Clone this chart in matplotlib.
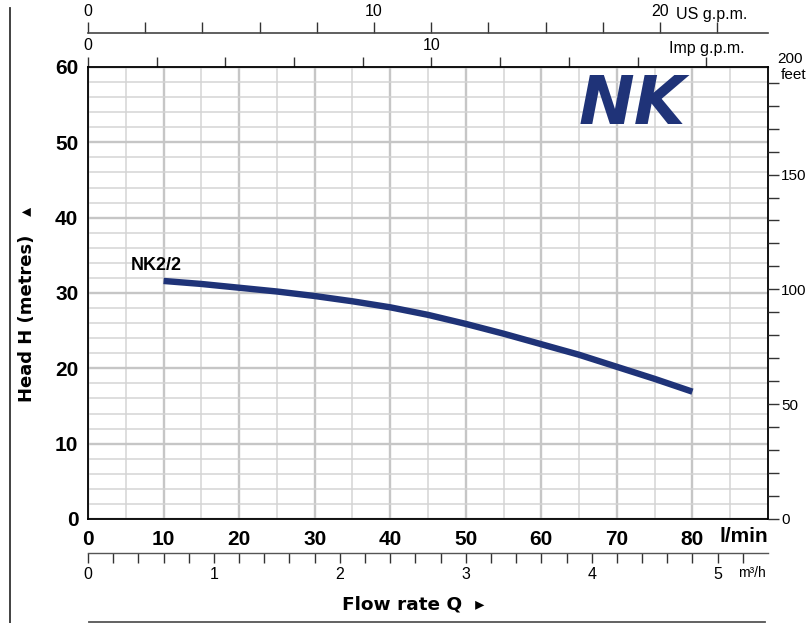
import matplotlib
matplotlib.use('Agg')
import matplotlib.pyplot as plt
from matplotlib.lines import Line2D
from matplotlib import font_manager
import numpy as np

# ---- data ----
flow_lpm = [10, 15, 20, 25, 30, 35, 40, 45, 50, 55, 60, 65, 70, 75, 80]
head_m = [31.6, 31.2, 30.7, 30.2, 29.6, 28.9, 28.1, 27.1, 25.9, 24.6, 23.2, 21.8, 20.2, 18.6, 16.9]
curve_label = 'NK2/2'
x_ticks_lpm = [0, 10, 20, 30, 40, 50, 60, 70, 80]
y_ticks_m = [0, 10, 20, 30, 40, 50, 60]
feet_label_vals = [0, 50, 100, 150]
usgpm_label_vals = [0, 10, 20]
impgpm_label_vals = [0, 10]
m3h_label_vals = [0, 1, 2, 3, 4, 5]

names = {f.name for f in font_manager.fontManager.ttflist}
NARROW = 'Liberation Sans Narrow' if 'Liberation Sans Narrow' in names else 'Liberation Sans'

W, H = 806, 623
fig = plt.figure(figsize=(W / 100, H / 100), dpi=100)
L, R, T, B = 88, 768, 67, 519
ax = fig.add_axes([L / W, 1 - B / H, (R - L) / W, (B - T) / H])
ax.set_xlim(0, 90)
ax.set_ylim(0, 60)

navy = '#1f3378'
SMALL = 11.5

# grid
ax.set_xticks(x_ticks_lpm)
ax.set_xticks(np.arange(5, 90, 5), minor=True)
ax.set_yticks(y_ticks_m)
ax.set_yticks(np.arange(2, 60, 2), minor=True)
ax.grid(which='major', color='#c6c6c6', lw=1.7)
ax.grid(which='minor', color='#d4d4d4', lw=1.1)
ax.set_axisbelow(True)
ax.tick_params(which='both', length=0)
ax.tick_params(axis='x', pad=8)
ax.tick_params(axis='y', pad=7)
for lab in ax.get_xticklabels() + ax.get_yticklabels():
    lab.set_fontfamily(NARROW)
    lab.set_fontweight('bold')
    lab.set_fontsize(15)
for s in ax.spines.values():
    s.set_linewidth(1.3)
    s.set_color('black')

# curve
ax.plot(flow_lpm, head_m, color=navy, lw=4.6, solid_capstyle='butt', zorder=3)
ax.text(5.7, 33.6, curve_label, ha='left', va='center', family=NARROW,
        fontweight='bold', fontsize=13)

# logo
ax.text(72.0, 54.9, 'NK', ha='center', va='center', color=navy, fontsize=48,
        fontweight='bold', style='italic', family='DejaVu Sans')

# right axis in feet
axr = ax.twinx()
axr.set_ylim(0, 60 / 0.3048)
axr.set_yticks(np.arange(0, 200, 10))
axr.set_yticklabels([str(v) if v in feet_label_vals else '' for v in range(0, 200, 10)])
axr.tick_params(axis='y', direction='out', length=8, width=1, pad=1.5, labelsize=11,
                color='#333333')
for lab in axr.get_yticklabels():
    lab.set_fontfamily(NARROW)
for s in axr.spines.values():
    s.set_visible(False)
fig.text(777 / W, 1 - 59 / H, '200', ha='left', va='center', family=NARROW, fontsize=11)
fig.text(781 / W, 1 - 75 / H, 'feet', ha='left', va='center', family=NARROW, fontsize=11)

# top: Imp g.p.m.
imp = ax.secondary_xaxis('top', functions=(lambda x: x / 4.54609, lambda x: x * 4.54609))
imp_ticks = np.arange(0, 20, 2)
imp.set_xticks(imp_ticks)
imp.set_xticklabels([str(v) if v in impgpm_label_vals else '' for v in imp_ticks])
imp.tick_params(direction='out', length=7, width=1, pad=3, labelsize=SMALL, color='#333333')
for lab in imp.get_xticklabels():
    lab.set_fontfamily(NARROW)
fig.text(745 / W, 1 - 48 / H, 'Imp g.p.m.', ha='right', va='center', family=NARROW, fontsize=SMALL)

# top: US g.p.m.
us = ax.secondary_xaxis(1 + 34 / (B - T), functions=(lambda x: x / 3.78541, lambda x: x * 3.78541))
us_ticks = np.arange(0, 24, 2)
us.set_xticks(us_ticks)
us.set_xticklabels([str(v) if v in usgpm_label_vals else '' for v in us_ticks])
us.tick_params(direction='out', length=8, width=1, pad=2, labelsize=SMALL, color='#333333')
for lab in us.get_xticklabels():
    lab.set_fontfamily(NARROW)
for s in us.spines.values():
    s.set_color('#444444')
    s.set_linewidth(1.2)
fig.text(676 / W, 1 - 15 / H, 'US g.p.m.', ha='left', va='center', family=NARROW, fontsize=SMALL)

# bottom: m3/h
m3 = ax.secondary_xaxis(-34 / (B - T), functions=(lambda x: x * 0.06, lambda x: x / 0.06))
m3_ticks = np.round(np.arange(0, 5.3, 0.2), 1)
m3.set_xticks(m3_ticks)
m3.set_xticklabels([str(int(v)) if abs(v - round(v)) < 1e-6 and int(round(v)) in m3h_label_vals else ''
                    for v in m3_ticks])
m3.tick_params(direction='out', length=7, width=1, pad=3, labelsize=SMALL, color='#333333')
for lab in m3.get_xticklabels():
    lab.set_fontfamily(NARROW)
for s in m3.spines.values():
    s.set_color('#555555')
    s.set_linewidth(1.0)
fig.text(738 / W, 1 - 573 / H, 'm³/h', ha='left', va='center', family=NARROW, fontsize=10)

# unit label l/min
fig.text(768 / W, 1 - 537 / H, 'l/min', ha='right', va='center', family=NARROW,
         fontweight='bold', fontsize=15)

# axis titles
fig.text(27 / W, 1 - 304 / H, 'Head H (metres)   \u25B4', rotation=90, ha='center', va='center',
         family='DejaVu Sans', fontweight='bold', fontsize=13)
fig.text(342 / W, 1 - 605 / H, 'Flow rate Q  \u25B8', ha='left', va='center',
         family='DejaVu Sans', fontweight='bold', fontsize=13.3)

# frame lines
fig.add_artist(Line2D([10 / W, 10 / W], [1 - 8 / H, 0], color='#333333', lw=1.3))
fig.add_artist(Line2D([89 / W, 765 / W], [1 - 621.5 / H, 1 - 621.5 / H], color='#555555', lw=1.3))

fig.savefig('out.png', dpi=100)
